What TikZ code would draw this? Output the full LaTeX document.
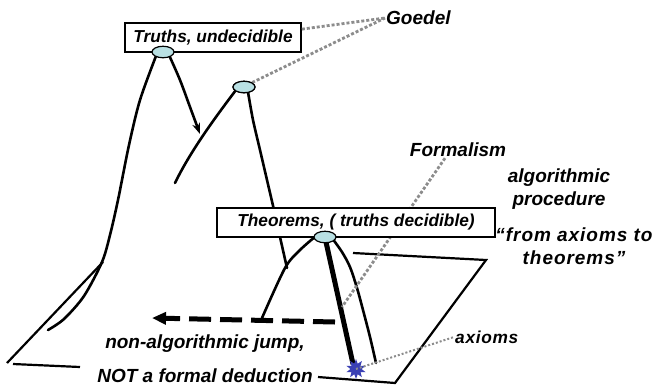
\documentclass[tikz,border=0pt]{standalone}
\usepackage{fontspec}
\setmainfont{Liberation Sans}
\usetikzlibrary{arrows.meta,shapes.geometric}
\definecolor{capfill}{HTML}{B9E0E3}
\definecolor{hintgray}{HTML}{8C8C8C}
\definecolor{starblue}{HTML}{3A40B4}
\begin{document}
\begin{tikzpicture}[x=1pt,y=-1pt,
  lbl/.style={font=\fontsize{19}{23}\selectfont\bfseries\itshape, inner sep=1pt, align=center},
  boxlbl/.style={font=\fontsize{17.3}{23}\selectfont\bfseries\itshape, draw, fill=white, line width=1.7pt, inner sep=0pt, minimum height=29pt},
  peakcap/.style={ellipse, draw, line width=1.2pt, fill=capfill, minimum width=22pt, minimum height=11.5pt, inner sep=0pt},
  ridge/.style={line width=2.6pt, line cap=round},
  planeedge/.style={line width=2.2pt},
  hint/.style={draw=hintgray, line width=2.8pt, dash pattern=on 3pt off 2pt},
  finehint/.style={draw=hintgray, line width=2pt, dash pattern=on 2pt off 2pt},
  jump/.style={line width=5pt, dash pattern=on 22pt off 9pt},
]
\useasboundingbox (0,0) rectangle (652,386);

% ground plane (only the visible edges)
\draw[planeedge] (7,363) -- (103,262);
\draw[planeedge] (13,364) -- (80,367);
\draw[planeedge] (318,377) -- (395,383) -- (486,260) -- (353,253);

% first peak
\draw[ridge] plot[smooth] coordinates {(156,56) (140,100) (129,145) (118,200) (110,235) (102,262) (84,296) (64,319) (48,330)};
\draw[ridge,-{Stealth[length=11pt,width=8pt]}] plot[smooth] coordinates {(169,55) (180,80) (190,107) (200,134)};

% second peak
\draw[ridge] (236,90) .. controls (214,119) and (190,152) .. (175,183);
\draw[ridge] plot[smooth] coordinates {(248,92) (253,120) (260,150) (267,180) (274,210) (280,237) (287,268)};

% theorem peak
\draw[ridge] plot[smooth] coordinates {(316,236) (300,250) (285,268) (262,318)};
\draw[ridge] plot[smooth] coordinates {(332,238) (342,252) (350,267) (357,288) (363,310) (370,337) (376,363)};
\draw[line width=5pt] (326,242) -- (353,364);

% non-algorithmic jump
\coordinate (jumpfrom) at (335,322);
\coordinate (jumpto) at (152,318);
\draw[jump,-{Triangle[length=14pt,width=12pt]}] (jumpfrom) -- (jumpto);

% labels
\node[lbl, anchor=west] (goedel) at (385,18) {Goedel};
\node[lbl] (formalism) at (458,150) {Formalism};
\node[lbl] (algo) at (559,189) {algorithmic\\procedure};
\node[lbl] (fromax) at (574,246) {\addfontfeature{LetterSpace=5}“from axioms to\\\addfontfeature{LetterSpace=5}theorems”};
\node[lbl] (nonalg) at (205,344) {non-algorithmic jump,};
\node[lbl, anchor=base] (notformal) at (205,382) {NOT a formal deduction};
\node[lbl, font=\fontsize{17.3}{23}\selectfont\bfseries\itshape, anchor=west] (axioms) at (454,337) {\addfontfeature{LetterSpace=4}axioms};

% boxes and caps
\node[boxlbl, minimum width=176pt] (truths) at (213,37.5) {Truths, undecidible};
\node[peakcap] (e2) at (244,87) {};

% dotted hints
\coordinate (fend) at (342,307);
\draw[hint] ([yshift=-7pt]truths.north east) -- (goedel.west);
\draw[hint] (e2.north east) -- (goedel.west);
\draw[hint] ([xshift=-13pt]formalism.south) -- (fend);

\node[boxlbl, minimum width=278pt] (theorems) at (356,222.5) {Theorems, ( truths decidible)};
\node[peakcap] (e1) at (163,52) {};
\node[peakcap] (e3) at (325,237) {};
\node[peakcap] at (244,87) {};

% axioms
\node[star, star points=10, star point ratio=1.8, minimum size=20pt, inner sep=0pt, fill=starblue] (ax) at (356,369) {};
\draw[finehint] (ax.center) -- (axioms.west);
\end{tikzpicture}
\end{document}
